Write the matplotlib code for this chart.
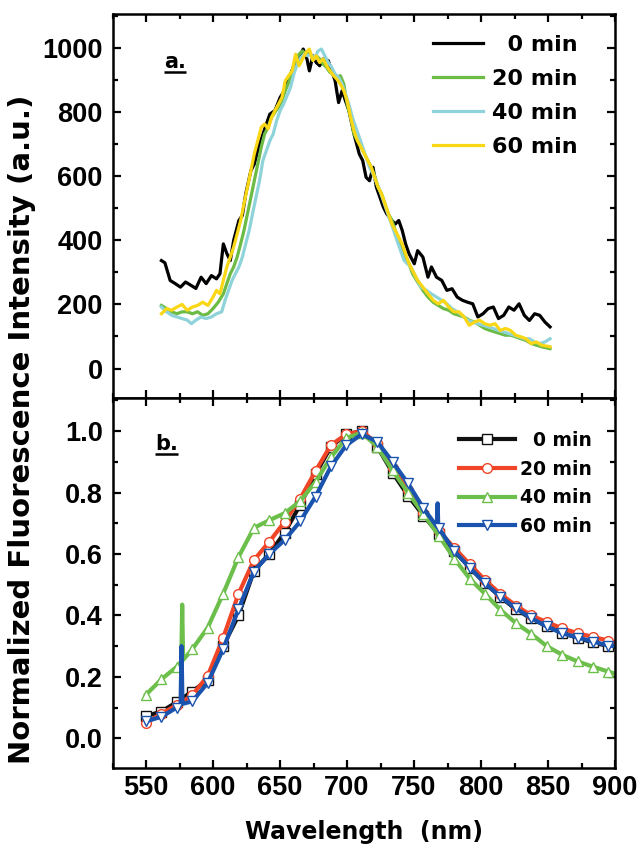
import numpy as np
import matplotlib.pyplot as plt
from matplotlib.ticker import MultipleLocator

# ---------------- panel a: raw emission spectra (a.u.) ----------------
wl_a0 = [561.5, 564.1, 568.0, 571.8, 575.7, 579.5, 583.4, 587.2, 591.1, 594.9,
         598.8, 602.6, 605.2, 607.7, 610.3, 612.9, 615.4, 619.3, 621.9, 624.4,
         628.3, 630.8, 634.7, 637.3, 639.8, 642.4, 646.2, 650.1, 653.9, 656.5,
         660.3, 664.2, 667.3, 670.1, 671.9, 674.5, 677.0, 679.6, 682.2, 686.0,
         688.6, 691.1, 693.7, 696.3, 698.8, 701.4, 705.2, 709.1, 711.7, 714.2,
         716.8, 719.4, 721.9, 724.5, 727.1, 729.6, 733.5, 736.0, 738.6, 741.2,
         743.7, 746.3, 750.2, 752.7, 756.6, 760.4, 763.0, 766.8, 770.7, 774.5,
         778.4, 782.2, 786.1, 789.9, 793.8, 797.6, 801.5, 805.3, 809.2, 813.0,
         816.9, 820.7, 824.6, 828.4, 832.3, 836.1, 840.0, 843.8, 847.7, 851.5]
int_a0 = [337, 330, 275, 265, 254, 270, 260, 250, 285, 265,
          290, 280, 296, 389, 359, 337, 400, 462, 478, 545,
          618, 638, 701, 732, 763, 794, 805, 846, 872, 903,
          945, 971, 997, 966, 929, 976, 955, 945, 966, 961,
          929, 898, 830, 867, 836, 805, 732, 670, 649, 597,
          586, 628, 566, 535, 504, 483, 462, 451, 462, 431,
          389, 358, 327, 368, 348, 285, 317, 285, 275, 244,
          249, 223, 213, 207, 202, 161, 171, 187, 192, 156,
          166, 192, 182, 202, 166, 150, 171, 166, 145, 130]

wl_a20 = [561.5, 565.4, 569.2, 573.1, 576.9, 580.8, 584.6, 588.5, 592.3, 596.2,
          600.0, 603.9, 607.7, 610.3, 612.9, 615.4, 618.0, 620.6, 623.1, 625.7,
          628.3, 630.8, 633.4, 636.0, 638.5, 641.1, 643.7, 646.2, 648.8, 651.4,
          653.9, 656.5, 659.1, 661.6, 664.2, 666.8, 669.3, 671.9, 674.5, 677.0,
          679.6, 682.2, 684.7, 687.3, 689.9, 692.4, 695.0, 697.6, 700.1, 702.7,
          705.2, 707.8, 710.4, 713.0, 715.5, 718.1, 720.6, 723.2, 725.8, 728.3,
          730.9, 733.5, 736.0, 738.6, 741.2, 743.7, 746.3, 748.9, 752.7, 756.6,
          760.4, 764.3, 768.1, 772.0, 775.8, 779.7, 783.5, 787.4, 791.2, 795.1,
          798.9, 802.8, 806.6, 810.5, 814.3, 818.2, 822.0, 825.9, 829.7, 833.5,
          837.4, 841.3, 845.1, 851.5]
int_a20 = [197, 187, 177, 171, 177, 177, 171, 177, 166, 171,
           187, 207, 233, 265, 296, 317, 348, 389, 431, 483,
           535, 586, 638, 691, 732, 753, 784, 800, 815, 836,
           867, 893, 929, 966, 981, 991, 981, 986, 971, 976,
           966, 950, 940, 924, 919, 909, 914, 888, 825, 784,
           732, 711, 691, 670, 649, 628, 602, 566, 545, 514,
           483, 462, 431, 400, 374, 348, 327, 296, 270, 244,
           223, 207, 197, 187, 182, 171, 166, 161, 151, 145,
           135, 125, 119, 114, 109, 104, 104, 99, 93, 88,
           78, 73, 68, 62]

wl_a40 = [561.5, 565.4, 569.2, 573.1, 576.9, 580.8, 583.9, 587.2, 591.1, 594.9,
          598.8, 602.6, 606.5, 609.0, 611.6, 614.2, 616.7, 619.3, 621.9, 624.4,
          627.0, 629.5, 632.1, 634.7, 637.2, 639.8, 642.4, 644.9, 647.5, 650.1,
          652.6, 655.2, 657.8, 660.3, 662.9, 665.5, 668.0, 670.6, 673.2, 675.7,
          678.3, 680.9, 683.4, 686.0, 688.6, 691.1, 693.7, 696.3, 698.8, 701.4,
          704.0, 706.5, 709.1, 711.7, 714.2, 716.8, 719.4, 721.9, 724.5, 727.1,
          729.6, 732.2, 734.8, 737.3, 739.9, 742.5, 745.0, 747.6, 751.4, 755.3,
          759.2, 763.0, 766.8, 770.7, 774.5, 778.4, 782.2, 786.1, 789.9, 793.8,
          797.6, 801.5, 805.3, 809.2, 813.0, 816.9, 820.7, 824.6, 828.4, 832.3,
          836.1, 840.0, 843.8, 847.7, 851.5]
int_a40 = [192, 177, 166, 161, 156, 151, 140, 151, 161, 156,
           161, 171, 177, 213, 244, 275, 296, 317, 348, 389,
           431, 483, 535, 586, 649, 680, 711, 732, 774, 805,
           825, 851, 877, 919, 950, 971, 981, 976, 981, 966,
           991, 997, 976, 955, 940, 919, 909, 888, 857, 825,
           784, 753, 722, 691, 660, 628, 607, 581, 555, 524,
           493, 462, 431, 400, 369, 338, 327, 317, 285, 254,
           244, 233, 223, 213, 202, 187, 177, 166, 151, 145,
           140, 135, 130, 125, 119, 114, 109, 104, 99, 93,
           93, 83, 78, 83, 93]

wl_a60 = [561.5, 565.4, 569.2, 573.1, 576.9, 580.8, 584.6, 588.5, 592.3, 596.2,
          600.0, 602.6, 605.2, 607.7, 610.3, 612.9, 615.4, 618.0, 620.6, 623.1,
          625.7, 628.3, 630.8, 633.4, 636.0, 638.5, 641.1, 643.7, 646.2, 648.8,
          651.4, 653.9, 656.5, 659.1, 661.6, 664.2, 666.8, 669.3, 671.9, 674.5,
          677.0, 679.6, 682.2, 684.7, 687.3, 689.9, 692.4, 695.0, 697.6, 700.1,
          702.7, 705.2, 707.8, 710.4, 713.0, 715.5, 718.1, 720.6, 723.2, 725.8,
          728.3, 730.9, 733.5, 736.0, 738.6, 741.2, 743.7, 746.3, 748.9, 752.7,
          756.6, 760.4, 764.3, 768.1, 772.0, 775.8, 779.7, 783.5, 787.4, 791.2,
          795.1, 798.9, 802.8, 806.6, 810.5, 814.3, 818.2, 822.0, 825.9, 829.7,
          833.5, 837.4, 841.3, 845.1, 851.5]
int_a60 = [171, 187, 182, 192, 200, 182, 192, 197, 207, 197,
           223, 244, 233, 275, 317, 348, 379, 420, 462, 514,
           566, 618, 670, 711, 753, 763, 748, 784, 805, 825,
           846, 898, 914, 929, 981, 945, 966, 986, 997, 961,
           976, 955, 966, 945, 929, 914, 903, 888, 867, 836,
           784, 742, 711, 691, 670, 649, 628, 597, 566, 545,
           514, 483, 451, 431, 410, 389, 358, 327, 306, 275,
           254, 233, 213, 202, 213, 192, 177, 177, 161, 135,
           145, 151, 140, 135, 140, 119, 125, 119, 104, 99,
           93, 78, 83, 73, 68]

# ---------------- panel b: normalized spectra ----------------
# sampled at the marker positions, last point (900 nm) carries no marker
wl_b = [550, 561.5, 573, 584.5, 596, 607.5, 619, 630.5, 642, 653.5,
        665, 676.5, 688, 699.5, 711, 722.5, 734, 745.5, 757, 768.5,
        780, 791.5, 803, 814.5, 826, 837.5, 849, 860.5, 872, 883.5,
        895, 900]
norm_b0 = [0.072, 0.087, 0.118, 0.152, 0.19, 0.30, 0.40, 0.545, 0.60, 0.67,
           0.76, 0.86, 0.95, 0.99, 1.0, 0.95, 0.865, 0.79, 0.725, 0.665,
           0.61, 0.556, 0.505, 0.46, 0.42, 0.39, 0.365, 0.343, 0.327, 0.312,
           0.30, 0.298]
norm_b20 = [0.05, 0.08, 0.108, 0.14, 0.203, 0.326, 0.47, 0.58, 0.64, 0.705,
            0.78, 0.87, 0.955, 0.99, 1.0, 0.96, 0.88, 0.81, 0.735, 0.675,
            0.62, 0.567, 0.515, 0.47, 0.432, 0.40, 0.378, 0.358, 0.342, 0.33,
            0.318, 0.312]
norm_b40 = [0.142, 0.192, 0.233, 0.29, 0.36, 0.47, 0.59, 0.685, 0.71, 0.733,
            0.772, 0.835, 0.915, 0.978, 0.995, 0.95, 0.872, 0.80, 0.73, 0.66,
            0.585, 0.52, 0.47, 0.418, 0.375, 0.34, 0.30, 0.272, 0.25, 0.233,
            0.217, 0.21]
norm_b60 = [0.055, 0.07, 0.10, 0.12, 0.18, 0.29, 0.42, 0.543, 0.60, 0.646,
            0.706, 0.787, 0.885, 0.955, 0.99, 0.966, 0.90, 0.83, 0.749, 0.684,
            0.61, 0.556, 0.505, 0.461, 0.423, 0.391, 0.364, 0.342, 0.328, 0.315,
            0.302, 0.30]
# narrow spikes (lamp lines) between marker positions
spike_wl_40 = [576.3, 577.0, 577.7]
spike_val_40 = [0.25, 0.435, 0.255]
spike_wl_60 = [575.8, 576.5, 577.2, 767.0, 767.6, 768.1]
spike_val_60 = [0.11, 0.30, 0.112, 0.69, 0.765, 0.688]

labels = ['  0 min', '20 min', '40 min', '60 min']


def merge_spikes(wl, val, s_wl, s_val):
    # put spike points into the series, keep markers on the sampled grid only
    x = np.array(list(wl) + list(s_wl), dtype=float)
    y = np.array(list(val) + list(s_val), dtype=float)
    flag = np.r_[np.ones(len(wl) - 1, bool), False, np.zeros(len(s_wl), bool)]
    order = np.argsort(x, kind='stable')
    return x[order], y[order], list(np.flatnonzero(flag[order]))


plt.rcParams['font.family'] = 'Liberation Sans'
plt.rcParams['font.weight'] = 'bold'

fig = plt.figure(figsize=(6.4, 8.51), dpi=100)
ax1 = fig.add_axes([0.1758, 0.5323, 0.7852, 0.4507])
ax2 = fig.add_axes([0.1758, 0.0975, 0.7852, 0.4348])

# panel a
top_colors = ['#000000', '#6cbb45', '#8fd3da', '#fad714']
for wl, val, c, lab in zip([wl_a0, wl_a20, wl_a40, wl_a60],
                           [int_a0, int_a20, int_a40, int_a60], top_colors, labels):
    ax1.plot(wl, val, color=c, lw=2.3, label=lab)

# panel b
bot_colors = ['#111111', '#f04526', '#6cbf4a', '#1a53ad']
bot_markers = ['s', 'o', '^', 'v']
bot_data = [merge_spikes(wl_b, norm_b0, [], []),
            merge_spikes(wl_b, norm_b20, [], []),
            merge_spikes(wl_b, norm_b40, spike_wl_40, spike_val_40),
            merge_spikes(wl_b, norm_b60, spike_wl_60, spike_val_60)]
for (x, y, mk), c, m, lab in zip(bot_data, bot_colors, bot_markers, labels):
    ax2.plot(x, y, color=c, lw=3, marker=m, markevery=mk, ms=7,
             mfc='white', mec=c, mew=1.0, label=lab)

for ax in (ax1, ax2):
    ax.set_xlim(525, 900)
    ax.xaxis.set_major_locator(MultipleLocator(50))
    ax.xaxis.set_minor_locator(MultipleLocator(25))
    ax.tick_params(which='both', direction='in', top=True, right=True, width=1.6)
    ax.tick_params(which='major', length=6)
    ax.tick_params(which='minor', length=3.5)
    ax.tick_params(axis='both', labelsize=19.5)
    ax.tick_params(axis='x', pad=5)
    ax.tick_params(axis='y', pad=7)
    for sp in ax.spines.values():
        sp.set_linewidth(1.8)

ax1.set_ylim(-92, 1105)
ax1.yaxis.set_major_locator(MultipleLocator(200))
ax1.yaxis.set_minor_locator(MultipleLocator(100))
ax1.tick_params(axis='x', labelbottom=False)

ax2.set_ylim(-0.097, 1.108)
ax2.yaxis.set_major_locator(MultipleLocator(0.2))
ax2.yaxis.set_minor_locator(MultipleLocator(0.1))
ax2.yaxis.set_major_formatter(plt.FuncFormatter(lambda v, p: f'{v:.1f}'))

leg1 = ax1.legend(loc='upper right', bbox_to_anchor=(0.926, 0.946), frameon=False,
                  prop={'family': 'DejaVu Sans', 'weight': 'bold', 'size': 16},
                  handlelength=2.25, handletextpad=0.4, labelspacing=0.63,
                  borderpad=0, borderaxespad=0)
leg2 = ax2.legend(loc='upper right', bbox_to_anchor=(0.954, 0.911), frameon=False,
                  prop={'family': 'DejaVu Sans', 'weight': 'bold', 'size': 13.5},
                  handlelength=3.0, handletextpad=0.27, labelspacing=0.51,
                  borderpad=0, borderaxespad=0, numpoints=1)

# panel letters, underlined
t1 = ax1.text(0.1025, 0.8605, 'a.', transform=ax1.transAxes, fontsize=15,
              family='DejaVu Sans', fontweight='bold', va='baseline')
t2 = ax2.text(0.0846, 0.859, 'b.', transform=ax2.transAxes, fontsize=15,
              family='DejaVu Sans', fontweight='bold', va='baseline')
fig.canvas.draw()
for t, ax in ((t1, ax1), (t2, ax2)):
    bb = t.get_window_extent().transformed(ax.transAxes.inverted())
    x0, y0 = t.get_position()
    ax.plot([bb.x0, bb.x1], [y0 - 0.011, y0 - 0.011], color='black', lw=1.8,
            transform=ax.transAxes, clip_on=False, solid_capstyle='butt')

fig.text(0.034, 0.495, 'Normalized Fluorescence Intensity (a.u.)', rotation=90,
         ha='center', va='center', fontsize=21, family='DejaVu Sans',
         fontweight='bold')
fig.text(0.568, 0.0141, 'Wavelength  (nm)', ha='center', va='baseline',
         fontsize=17, family='DejaVu Sans', fontweight='bold')

fig.savefig('out.png', dpi=100)
